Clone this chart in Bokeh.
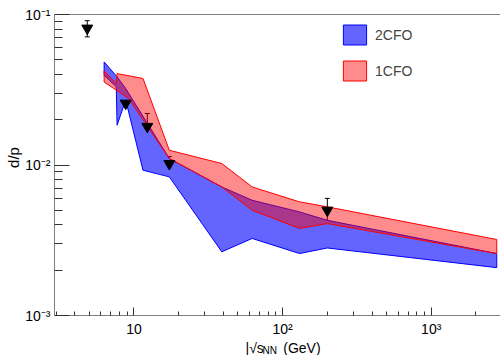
from bokeh.plotting import figure
from bokeh.models import (Range1d, FixedTicker, CustomJSTickFormatter, Whisker, TeeHead,
                          ColumnDataSource, Legend, LegendItem, Label, LogAxis)
from bokeh.embed import file_html
from bokeh.resources import INLINE
import math

# ---- data ----
# measured d/p points
sqrt_s = [4.85, 8.8, 12.3, 17.3, 200.0]
dp = [0.081, 0.0257, 0.018, 0.0102, 0.0050]
dp_err = [0.010, 0.0010, 0.004, 0.0012, 0.0010]

# 2CFO band (blue)
cfo2_up_x = [6.3, 7.7, 8.8, 17.3, 39.0, 62.4, 130.0, 200.0, 2760.0]
cfo2_up_y = [0.0484, 0.0385, 0.0322, 0.01104, 0.00715, 0.00583, 0.00488, 0.00429, 0.00258]
cfo2_lo_x = [6.3, 7.6, 7.7, 8.8, 11.5, 17.3, 39.0, 62.4, 130.0, 200.0, 2760.0]
cfo2_lo_y = [0.0395, 0.0331, 0.01837, 0.0270, 0.00923, 0.00834, 0.00265, 0.00325, 0.00258, 0.00281, 0.00208]

# 1CFO band (red)
cfo1_up_x = [6.3, 7.6, 7.7, 11.5, 17.3, 39.0, 62.4, 130.0, 200.0, 2760.0]
cfo1_up_y = [0.0422, 0.0348, 0.0405, 0.0376, 0.01253, 0.01023, 0.00715, 0.00569, 0.00527, 0.00320]
cfo1_lo_x = [6.3, 9.2, 17.3, 39.0, 62.4, 130.0, 200.0, 2760.0]
cfo1_lo_y = [0.0356, 0.0277, 0.01104, 0.00715, 0.00501, 0.00379, 0.00408, 0.00258]

x_major = [10, 100, 1000]
x_minor = [3, 4, 5, 6, 7, 8, 9, 20, 30, 40, 50, 60, 70, 80, 90,
           200, 300, 400, 500, 600, 700, 800, 900, 2000]
y_major = [1e-3, 1e-2, 1e-1]
y_minor = [2e-3, 3e-3, 4e-3, 5e-3, 6e-3, 7e-3, 8e-3, 9e-3,
           2e-2, 3e-2, 4e-2, 5e-2, 6e-2, 7e-2, 8e-2, 9e-2]

FONT = "Liberation Sans"
BLUE_FILL = "#6464ff"
RED_FILL = "#ff0000"

p = figure(width=500, height=355, x_axis_type="log", y_axis_type="log",
           x_range=Range1d(2.92, 2925), y_range=Range1d(1e-3, 1e-1),
           output_backend="svg", toolbar_location=None,
           min_border_left=54, min_border_right=0, min_border_top=14, min_border_bottom=40)
p.grid.visible = False
p.outline_line_color = None
p.background_fill_color = "white"
p.border_fill_color = "white"

# bands
blue = p.patch(cfo2_up_x + cfo2_lo_x[::-1], cfo2_up_y + cfo2_lo_y[::-1],
               fill_color=BLUE_FILL, fill_alpha=1.0, line_color="#0000ff", line_width=1)
red = p.patch(cfo1_up_x + cfo1_lo_x[::-1], cfo1_up_y + cfo1_lo_y[::-1],
              fill_color=RED_FILL, fill_alpha=0.45, line_color="#ff0000", line_width=1)

# data points with error bars
src = ColumnDataSource(dict(x=sqrt_s, y=dp,
                            lo=[v - e for v, e in zip(dp, dp_err)],
                            hi=[v + e for v, e in zip(dp, dp_err)]))
w = Whisker(source=src, base="x", lower="lo", upper="hi", line_color="black", line_width=1,
            upper_head=TeeHead(size=5, line_color="black", line_width=1),
            lower_head=TeeHead(size=5, line_color="black", line_width=1))
p.add_layout(w)
p.scatter("x", "y", source=src, marker="inverted_triangle", size=11,
          fill_color="black", line_color="black")

sup_js = """
const sup = {'-':'\u207b','0':'\u2070','1':'\u00b9','2':'\u00b2','3':'\u00b3','4':'\u2074',
             '5':'\u2075','6':'\u2076','7':'\u2077','8':'\u2078','9':'\u2079'};
const e = Math.round(Math.log10(tick));
"""
p.xaxis.ticker = FixedTicker(ticks=x_major, minor_ticks=x_minor)
p.xaxis.formatter = CustomJSTickFormatter(code=sup_js + """
if (e == 1) { return '10'; }
return '10' + String(e).split('').map(c => sup[c]).join('');
""")
p.yaxis.ticker = FixedTicker(ticks=y_major, minor_ticks=y_minor)
p.yaxis.formatter = CustomJSTickFormatter(code=sup_js + """
return '10' + String(e).split('').map(c => sup[c]).join('');
""")

for ax in (p.xaxis, p.yaxis):
    ax.axis_line_color = "#808080"
    ax.major_tick_line_color = "#333333"
    ax.minor_tick_line_color = "#333333"
    ax.major_tick_out = 0
    ax.minor_tick_out = 0
    ax.major_label_text_font = FONT
    ax.major_label_text_font_size = "14px"
    ax.major_label_text_color = "black"
p.xaxis.major_tick_in = 8
p.xaxis.minor_tick_in = 4
p.yaxis.major_tick_in = 15
p.yaxis.minor_tick_in = 8
p.xaxis.major_label_standoff = 5
p.yaxis.major_label_standoff = 4

top = LogAxis(ticker=FixedTicker(ticks=[]), axis_line_color="#808080",
              major_tick_line_color=None, minor_tick_line_color=None,
              major_label_text_font_size="0px")
p.add_layout(top, "above")

# axis titles (side-panel labels, positioned relative to their panels)
p.add_layout(Label(x=8, y=158, x_units="screen", y_units="screen", text="d/p",
                   angle=math.pi / 2, text_align="center", text_baseline="middle",
                   text_font=FONT, text_font_size="15px", text_color="black"), "left")
p.add_layout(Label(x=191, y=8, x_units="screen", y_units="screen",
                   text="|\u221as\u00a0\u00a0\u00a0\u00a0\u00a0(GeV)",
                   text_align="left", text_baseline="alphabetic",
                   text_font=FONT, text_font_size="14px", text_color="black"), "below")
p.add_layout(Label(x=208, y=-336, x_units="screen", y_units="screen", text="NN",
                   text_align="left", text_baseline="alphabetic",
                   text_font=FONT, text_font_size="10px", text_color="black"), "above")

legend = Legend(items=[LegendItem(label="2CFO", renderers=[blue]),
                       LegendItem(label="1CFO", renderers=[red])],
                location=(286, 232), glyph_width=29, glyph_height=25, spacing=11,
                padding=0, margin=0, border_line_alpha=0, background_fill_alpha=0,
                label_text_font=FONT, label_text_font_size="14px", label_standoff=6,
                label_height=25)
p.add_layout(legend)

open("out.html", "w").write(file_html(p, INLINE))
